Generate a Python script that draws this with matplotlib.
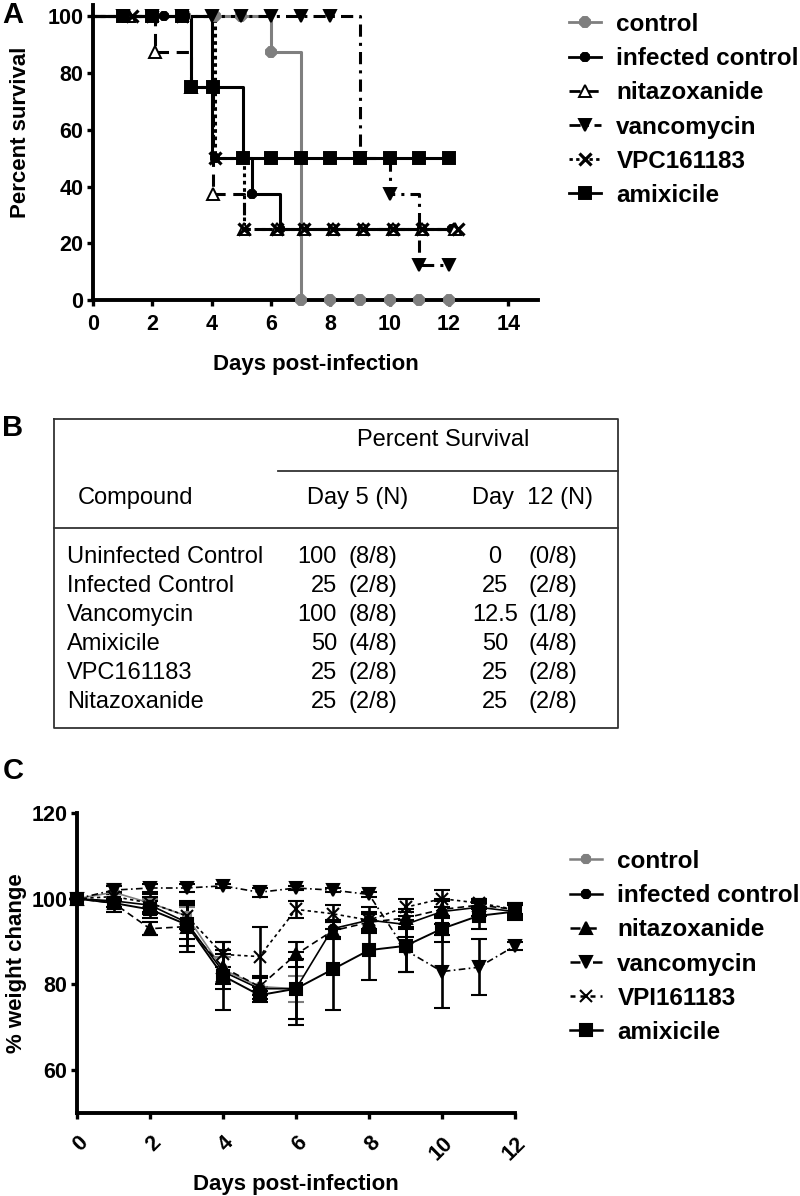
import numpy as np
import matplotlib
matplotlib.use("Agg")
import matplotlib.pyplot as plt
from matplotlib.lines import Line2D

plt.rcParams["font.family"] = ["Liberation Sans", "DejaVu Sans"]

# ---------------- Panel A: survival (step curves) ----------------
SERIES = ["control", "infected control", "nitazoxanide", "vancomycin", "VPC161183", "amixicile"]

ctrl_t = [0, 6.0, 7.0]
ctrl_s = [100, 87.5, 0]
ctrl_m = [1.1, 2.0, 3.1, 4.1, 5.0, 6.0, 7.0, 8.0, 9.0, 10.0, 11.0, 12.0]

inf_t = [0, 4.0, 5.35, 6.3]
inf_s = [100, 50, 37.5, 25]
inf_m = [1.0, 2.4, 3.1, 4.1, 5.35, 6.3, 7.1, 8.1, 9.1, 10.1, 11.1, 12.1]

nit_t = [0, 2.1, 3.3, 4.05, 5.1]
nit_s = [100, 87.5, 75, 37.5, 25]
nit_m = [1.2, 2.1, 3.3, 4.05, 5.1, 6.2, 7.1, 8.1, 9.1, 10.1, 11.1, 12.2]

van_t = [0, 9.0, 10.0, 11.0]
van_s = [100, 50, 37.5, 12.5]
van_m = [1.0, 2.0, 3.0, 4.0, 5.0, 6.0, 7.0, 8.0, 9.0, 10.0, 11.0, 12.0]

vpc_t = [0, 4.1, 5.1]
vpc_s = [100, 50, 25]
vpc_m = [1.3, 2.0, 3.0, 4.1, 5.1, 6.2, 7.1, 8.1, 9.1, 10.1, 11.1, 12.3]

amx_t = [0, 3.3, 5.05]
amx_s = [100, 75, 50]
amx_m = [1.0, 2.0, 3.0, 3.3, 4.05, 5.05, 6.0, 7.0, 8.0, 9.0, 10.0, 11.0, 12.0]

# ---------------- Panel B: table ----------------
compounds = ["Uninfected Control", "Infected Control", "Vancomycin", "Amixicile", "VPC161183", "Nitazoxanide"]
day5_pct = ["100", "25", "100", "50", "25", "25"]
day5_n = ["(8/8)", "(2/8)", "(8/8)", "(4/8)", "(2/8)", "(2/8)"]
day12_pct = ["0", "25", "12.5", "50", "25", "25"]
day12_n = ["(0/8)", "(2/8)", "(1/8)", "(4/8)", "(2/8)", "(2/8)"]

# ---------------- Panel C: weight change ----------------
days = np.arange(0, 13)
w_ctrl = [100, 101.5, 99, 96, 83.5, 79.5, 79]
w_ctrl_err = [0, 2, 1, 2, 3, 2, 3]
w_inf = [100, 99.5, 98.5, 94.5, 83, 79, 79, 93, 95, 94, 97, 98, 97]
w_inf_err = [0, 1.5, 2, 4, 4, 3, 8.5, 2, 3, 3, 3, 2, 1.5]
w_nit = [100, 99, 93, 93.5, 84, 79.5, 87, 92.5, 94.5, 95.5, 97.5, 98.5, 97.5]
w_nit_err = [0, 1, 1.5, 6, 4, 2, 3, 2, 2, 2, 2, 1, 1.5]
w_van = [100, 102, 102.5, 102.5, 103, 101.5, 102.5, 102, 101, 88, 83, 84, 89]
w_van_err = [0, 1, 1, 1, 0.5, 1, 0.5, 0.5, 0.5, 5, 8.5, 6.5, 1]
w_vpi = [100, 100.5, 99, 96, 87, 86.5, 97.5, 96.5, 95, 98, 100, 99, 97.5]
w_vpi_err = [0, 1, 2, 3, 3, 7, 2, 2, 2, 2, 2, 1, 1]
w_amx = [100, 99, 97.5, 94, 82, 77.5, 79, 83.5, 88, 89, 93, 96, 97]
w_amx_err = [0, 2, 2, 5, 8, 1, 7, 9.5, 7, 6, 3, 3, 2]
C_LABELS = ["control", "infected control", "nitazoxanide", "vancomycin", "VPI161183", "amixicile"]

GRAY = "#7f7f7f"
BOLD = dict(fontweight="bold")
LEG_FS = 17.5

fig = plt.figure(figsize=(8, 11.96), dpi=100)


def style_axes(ax):
    for side in ("top", "right"):
        ax.spines[side].set_visible(False)
    for side in ("left", "bottom"):
        ax.spines[side].set_linewidth(2.8)
    ax.tick_params(width=2.4, length=4, labelsize=15.5, pad=3)
    for lab in ax.get_xticklabels() + ax.get_yticklabels():
        lab.set_fontweight("bold")


def step_value(t, s, x):
    idx = np.searchsorted(t, x, side="right") - 1
    return np.asarray(s)[idx]


# ---- Panel A ----
axA = fig.add_axes([93 / 800, 1 - 300 / 1196, 445 / 800, 295 / 1196])
specs_A = [
    (ctrl_t, ctrl_s, ctrl_m, GRAY, "-", "8", 7.5, GRAY),
    (inf_t, inf_s, inf_m, "black", "-", "8", 6.5, "black"),
    (nit_t, nit_s, nit_m, "black", (0, (4, 2.5)), "^", 9, "white"),
    (van_t, van_s, van_m, "black", (0, (4, 2, 1, 2)), "v", 9, "black"),
    (vpc_t, vpc_s, vpc_m, "black", (0, (1.2, 1.2)), "x", 8.5, "black"),
    (amx_t, amx_s, amx_m, "black", "-", "s", 9, "black"),
]
for (t, s, m, col, ls, mk, ms, mfc), name in zip(specs_A, SERIES):
    xs = list(t) + [m[-1]]
    ys = list(s) + [s[-1]]
    axA.plot(xs, ys, drawstyle="steps-post", color=col, ls=ls, lw=2.2, zorder=2)
    axA.plot(m, step_value(t, s, m), ls="none", marker=mk, ms=ms, color=col,
             mfc=mfc, mec=col, mew=2.3 if mk == "x" else 1.4, clip_on=False, zorder=3)
axA.set_xlim(0, 15)
axA.set_ylim(0, 104)
axA.set_xticks(range(0, 15, 2))
axA.set_yticks(range(0, 101, 20))
style_axes(axA)
axA.tick_params(axis="x", pad=6)
axA.set_xlabel("Days post-infection", fontsize=16, labelpad=14, **BOLD)
axA.set_ylabel("Percent survival", fontsize=16, **BOLD)
axA.yaxis.set_label_coords(-0.14, 0.57)

handles_A = []
for (t, s, m, col, ls, mk, ms, mfc) in specs_A:
    handles_A.append(Line2D([], [], color=col, ls=ls, lw=2.0, marker=mk, ms=ms,
                            mfc=mfc, mec=col, mew=2.3 if mk == "x" else 1.4))
fig.legend(handles_A, SERIES, loc="upper left", bbox_to_anchor=(569 / 800, 1 - 13 / 1196),
           frameon=False, prop=dict(size=LEG_FS, weight="bold"), handlelength=1.3,
           handletextpad=0.65, labelspacing=0.46, borderpad=0, borderaxespad=0)

# ---- Panel B: table ----
tab = fig.add_axes([0, 0, 1, 1])
tab.set_xlim(0, 800)
tab.set_ylim(1196, 0)
tab.axis("off")
lc = "#333333"
tab.plot([54, 618, 618, 54, 54], [419, 419, 728, 728, 419], color=lc, lw=1.3)
tab.plot([278, 618], [471, 471], color=lc, lw=1.3)
tab.plot([54, 618], [528, 528], color=lc, lw=1.3)
TF = 17
tab.text(443, 440, "Percent Survival", fontsize=TF, ha="center", va="center")
tab.text(78, 498, "Compound", fontsize=TF, ha="left", va="center")
tab.text(358, 498, "Day 5 (N)", fontsize=TF, ha="center", va="center")
tab.text(532, 498, "Day  12 (N)", fontsize=TF, ha="center", va="center")
row_y = [557, 586, 615, 644, 673, 702]
for y, c, p5, n5, p12, n12 in zip(row_y, compounds, day5_pct, day5_n, day12_pct, day12_n):
    tab.text(67, y, c, fontsize=TF, ha="left", va="center")
    tab.text(337, y, p5, fontsize=TF, ha="right", va="center")
    tab.text(349, y, n5, fontsize=TF, ha="left", va="center")
    tab.text(495, y, p12, fontsize=TF, ha="center", va="center")
    tab.text(529, y, n12, fontsize=TF, ha="left", va="center")

for lbl, x, y in [("A", 13, 15), ("B", 13, 428), ("C", 13, 771)]:
    tab.text(x, y, lbl, fontsize=21, ha="center", va="center", **BOLD)

# ---- Panel C ----
axC = fig.add_axes([77 / 800, 1 - 1113 / 1196, 438 / 800, 300 / 1196])
specs_C = [
    (days[:len(w_ctrl)], w_ctrl, w_ctrl_err, GRAY, "-", "8", 7, 1.2),
    (days, w_inf, w_inf_err, "black", "-", "8", 6.5, 1.2),
    (days, w_nit, w_nit_err, "black", (0, (4, 2.5)), "^", 8.5, 1.2),
    (days, w_van, w_van_err, "black", (0, (4, 2, 1, 2)), "v", 8.5, 1.2),
    (days, w_vpi, w_vpi_err, "black", (0, (2, 2)), "x", 9, 1.2),
    (days, w_amx, w_amx_err, "black", "-", "s", 8.5, 1.4),
]
handles_C = []
for (x, y, e, col, ls, mk, ms, lw) in specs_C:
    axC.errorbar(x, y, yerr=e, color=col, ls=ls, lw=lw, marker=mk, ms=ms,
                 mfc=col, mec=col, mew=1.5, elinewidth=1.9, capsize=5.5, capthick=1.9,
                 clip_on=False, zorder=3)
    handles_C.append(Line2D([], [], color=col, ls=ls, lw=1.8, marker=mk, ms=ms,
                            mfc=col, mec=col, mew=1.5))
axC.set_xlim(0, 12)
axC.set_ylim(50, 120)
axC.set_xticks(range(0, 13, 2))
axC.set_yticks([60, 80, 100, 120])
style_axes(axC)
for lab in axC.get_xticklabels():
    lab.set_rotation(45)
    lab.set_ha("right")
    lab.set_va("top")
    lab.set_rotation_mode("anchor")
axC.tick_params(axis="x", pad=10)
axC.set_xlabel("Days post-infection", fontsize=16, labelpad=7, **BOLD)
axC.set_ylabel("% weight change", fontsize=16, **BOLD)
axC.yaxis.set_label_coords(-0.115, 0.5)
fig.legend(handles_C, C_LABELS, loc="upper left", bbox_to_anchor=(570 / 800, 1 - 850 / 1196),
           frameon=False, prop=dict(size=LEG_FS, weight="bold"), handlelength=1.3,
           handletextpad=0.65, labelspacing=0.46, borderpad=0, borderaxespad=0)

fig.savefig("out.png", dpi=100)
